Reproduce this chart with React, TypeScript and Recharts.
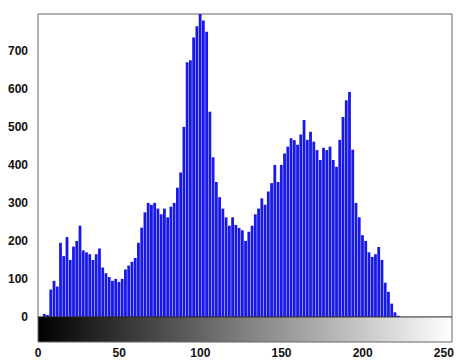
import React from 'react';
import {
  BarChart,
  Bar,
  XAxis,
  YAxis,
  ReferenceArea,
  ReferenceLine
} from 'recharts';

// intensity bins (every second grey level) and their pixel counts
const levels = [
  0, 2, 4, 6, 8, 10, 12, 14, 16, 18, 20, 22, 24, 26, 28, 30,
  32, 34, 36, 38, 40, 42, 44, 46, 48, 50, 52, 54, 56, 58, 60, 62,
  64, 66, 68, 70, 72, 74, 76, 78, 80, 82, 84, 86, 88, 90, 92, 94,
  96, 98, 100, 102, 104, 106, 108, 110, 112, 114, 116, 118, 120, 122, 124, 126,
  128, 130, 132, 134, 136, 138, 140, 142, 144, 146, 148, 150, 152, 154, 156, 158,
  160, 162, 164, 166, 168, 170, 172, 174, 176, 178, 180, 182, 184, 186, 188, 190,
  192, 194, 196, 198, 200, 202, 204, 206, 208, 210, 212, 214, 216, 218, 220, 222,
  224, 226, 228, 230, 232, 234, 236, 238, 240, 242, 244, 246, 248, 250, 252, 254
];

const counts = [
  0, 0, 8, 5, 72, 95, 80, 195, 160, 210, 150, 185, 200, 240, 175, 170,
  165, 150, 165, 180, 130, 115, 105, 95, 100, 92, 100, 125, 135, 145, 155, 195,
  235, 275, 300, 295, 300, 285, 270, 285, 262, 290, 300, 340, 380, 500, 670, 675,
  735, 765, 797, 780, 750, 540, 420, 355, 315, 285, 262, 240, 262, 242, 234, 228,
  200, 224, 240, 270, 285, 312, 295, 330, 352, 400, 355, 400, 430, 448, 470, 465,
  453, 480, 518, 466, 487, 461, 439, 413, 445, 439, 448, 413, 395, 466, 526, 570,
  592, 440, 300, 262, 215, 200, 170, 158, 165, 184, 150, 90, 66, 35, 12, 3,
  0, 0, 0, 0, 0, 0, 0, 0, 0, 0, 0, 0, 0, 0, 0, 0
];

const xTicks = [0, 50, 100, 150, 200, 250];
const yTicks = [0, 100, 200, 300, 400, 500, 600, 700];

const data = levels.map((level, i) => ({ level, count: counts[i] }));

const tickStyle = {
  fill: '#111',
  fontSize: 12,
  fontWeight: 'bold',
  fontFamily: 'Liberation Sans, Arial, sans-serif'
};

const App: React.FC = () => {
  return (
    <div style={{ position: 'absolute', left: 0, top: 0, background: '#fff' }}>
      <BarChart
        width={458}
        height={362}
        data={data}
        margin={{ top: 14, right: 6, bottom: 0, left: 0 }}
        barGap={0}
      >
        <defs>
          <linearGradient id="grayRamp" x1="0" y1="0" x2="1" y2="0">
            <stop offset="0%" stopColor="#000000" />
            <stop offset="100%" stopColor="#ffffff" />
          </linearGradient>
        </defs>
        <XAxis
          dataKey="level"
          type="number"
          domain={[0, 255]}
          ticks={xTicks}
          allowDataOverflow
          axisLine={false}
          tickLine={false}
          tick={tickStyle}
          tickMargin={0}
          height={20}
        />
        <YAxis
          type="number"
          domain={[-66, 797]}
          ticks={yTicks}
          allowDataOverflow
          axisLine={false}
          tickLine={false}
          tick={tickStyle}
          tickMargin={4}
          width={38}
        />
        <ReferenceArea
          x1={0}
          x2={255}
          y1={-66}
          y2={0}
          fill="url(#grayRamp)"
          fillOpacity={1}
          stroke="none"
        />
        <Bar
          dataKey="count"
          fill="#1818e8"
          barSize={2.8}
          isAnimationActive={false}
        />
        <ReferenceLine y={0} stroke="#222" strokeWidth={1} />
        <ReferenceArea
          x1={0}
          x2={255}
          y1={-66}
          y2={797}
          fill="none"
          fillOpacity={0}
          stroke="#666"
          strokeWidth={1}
        />
      </BarChart>
    </div>
  );
};

export default App;
